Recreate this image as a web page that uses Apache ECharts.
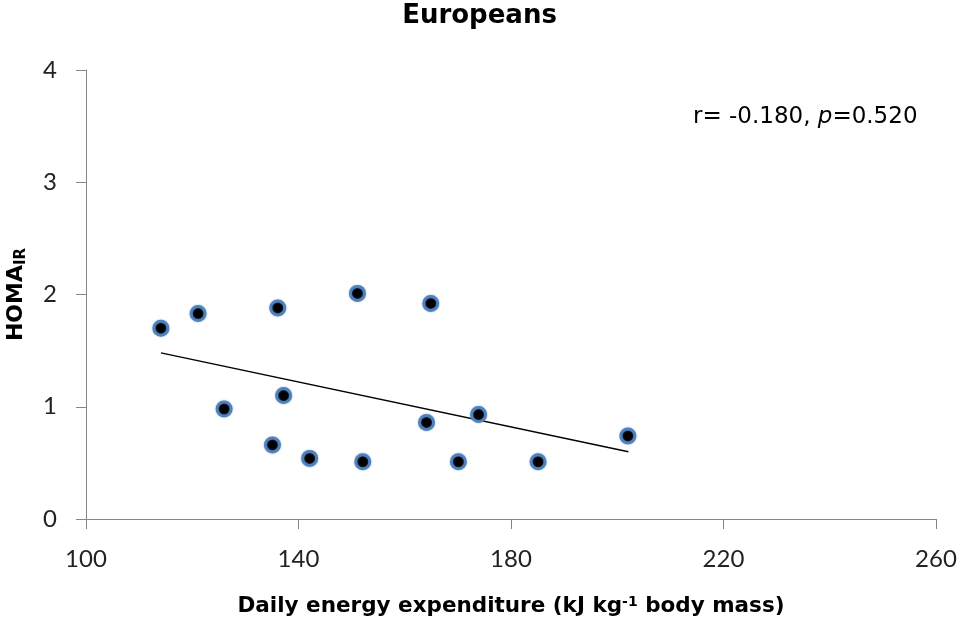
<!DOCTYPE html>
<html>
<head>
<meta charset="utf-8">
<script src="https://cdn.jsdelivr.net/npm/echarts@6/dist/echarts.min.js"></script>
<style>html,body{margin:0;padding:0;background:#fff}#c{width:959px;height:623px}</style>
</head>
<body>
<div id="c"></div>
<script>
const expenditure = [114.1, 121.1, 136.1, 151.1, 164.9, 126.0, 137.2, 135.1, 142.1, 152.1, 164.1, 173.9, 170.1, 185.1, 202.0];
const homaIR      = [1.70, 1.83, 1.88, 2.01, 1.92, 0.98, 1.10, 0.66, 0.54, 0.51, 0.86, 0.93, 0.51, 0.51, 0.74];
const trendX = [114.1, 202.1];
const trendY = [1.48, 0.60];
const xTicks = [100, 140, 180, 220, 260];
const yTicks = [0, 1, 2, 3, 4];
const chartTitle = 'Europeans';
const statText = { r: 'r= -0.180, ', p: 'p', rest: '=0.520' };

const chart = echarts.init(document.getElementById('c'));
chart.setOption({
  animation: false,
  backgroundColor: '#ffffff',
  title: {
    text: chartTitle, left: 'center', top: -2,
    textStyle: { fontFamily: 'DejaVu Sans', fontWeight: 'bold', fontSize: 26, color: '#000' }
  },
  grid: { left: 86, right: 23, top: 70, bottom: 104, containLabel: false, outerBoundsMode: 'none' },
  xAxis: {
    type: 'value', min: xTicks[0], max: xTicks[xTicks.length - 1], interval: 40,
    axisLine: { lineStyle: { color: '#868686', width: 1 } },
    axisTick: { show: true, length: 10, lineStyle: { color: '#868686' } },
    splitLine: { show: false },
    axisLabel: { fontFamily: 'Lato', fontSize: 24, color: '#222', margin: 28 },
    name: '{b|Daily energy expenditure (kJ kg}{s|-1}{b| body mass)}',
    nameLocation: 'middle', nameGap: 76,
    nameTextStyle: {
      rich: {
        b: { fontFamily: 'DejaVu Sans', fontWeight: 'bold', fontSize: 21.5, color: '#000' },
        s: { fontFamily: 'DejaVu Sans', fontWeight: 'bold', fontSize: 14, color: '#000', verticalAlign: 'top', padding: [0, 0, 8, 0] }
      }
    }
  },
  yAxis: {
    type: 'value', min: yTicks[0], max: yTicks[yTicks.length - 1], interval: 1,
    axisLine: { show: true, lineStyle: { color: '#868686', width: 1 } },
    axisTick: { show: true, length: 10, lineStyle: { color: '#868686' } },
    splitLine: { show: false },
    axisLabel: { fontFamily: 'Lato', fontSize: 24, color: '#222', margin: 29, padding: [6, 0, 0, 0] },
    name: '{b|HOMA}{s|IR}',
    nameLocation: 'middle', nameGap: 57, nameRotate: 90,
    nameTextStyle: {
      rich: {
        b: { fontFamily: 'DejaVu Sans', fontWeight: 'bold', fontSize: 22, color: '#000' },
        s: { fontFamily: 'DejaVu Sans', fontWeight: 'bold', fontSize: 15, color: '#000', padding: [10, 0, 0, 0] }
      }
    }
  },
  graphic: [{
    type: 'text', left: 693, top: 106,
    style: {
      text: '{a|' + statText.r + '}{i|' + statText.p + '}{a|' + statText.rest + '}',
      rich: {
        a: { fontFamily: 'DejaVu Sans', fontSize: 23, fill: '#000' },
        i: { fontFamily: 'DejaVu Sans', fontSize: 23, fontStyle: 'italic', fill: '#000' }
      }
    }
  }],
  series: [
    {
      type: 'line',
      data: trendX.map((x, i) => [x, trendY[i]]),
      symbol: 'none',
      lineStyle: { color: '#000', width: 1.5 },
      z: 2
    },
    {
      type: 'scatter',
      data: expenditure.map((x, i) => [x, homaIR[i]]),
      symbol: 'circle', symbolSize: 14,
      itemStyle: { color: '#000', borderColor: '#4f81bd', borderWidth: 3, opacity: 1, shadowColor: 'rgba(79,129,189,0.6)', shadowBlur: 2 },
      z: 3
    }
  ]
});
</script>
</body>
</html>
